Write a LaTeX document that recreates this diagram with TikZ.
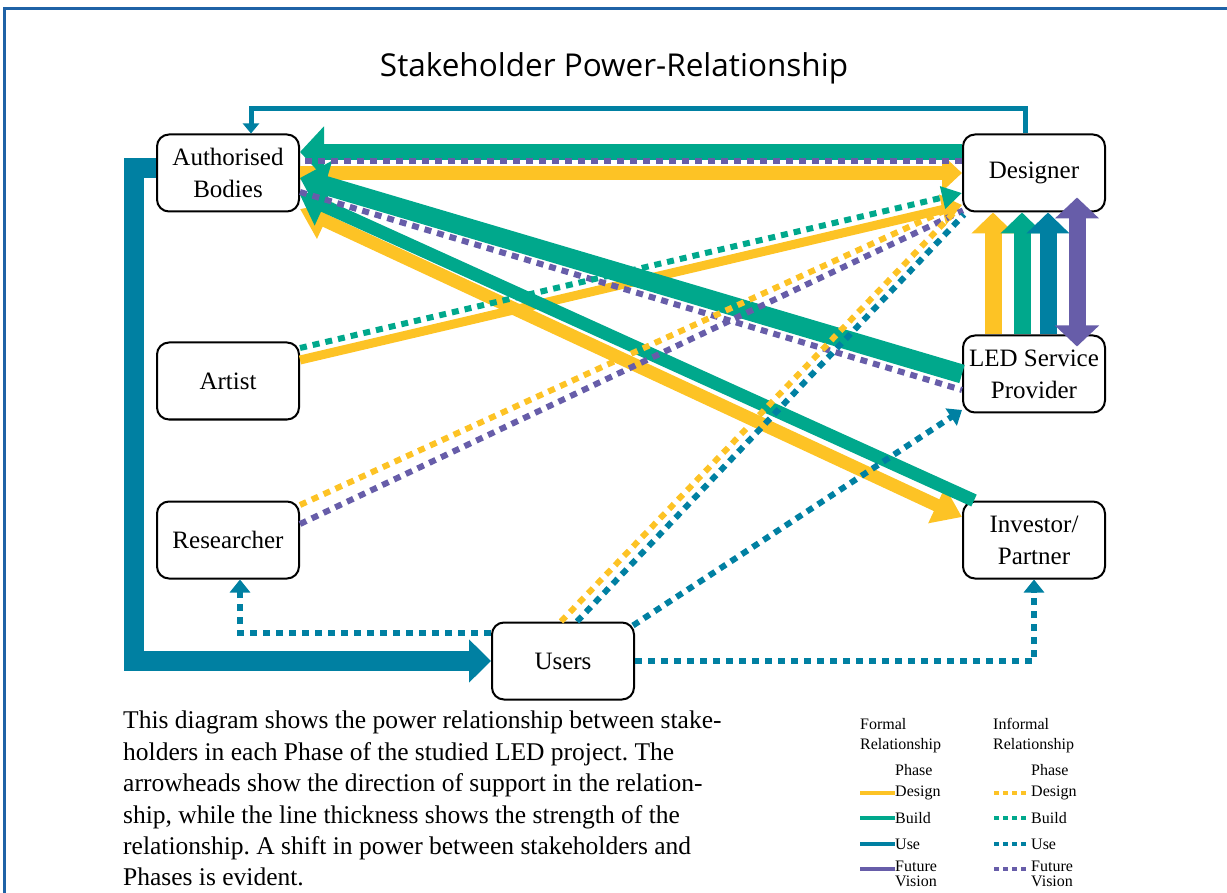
\documentclass[tikz,border=0pt]{standalone}
\usepackage{fontspec}
\setmainfont{Liberation Serif}
\newfontfamily\titlefont{Open Sans}
\usetikzlibrary{arrows.meta}

\definecolor{dsn}{HTML}{FDC325}
\definecolor{bld}{HTML}{00A88C}
\definecolor{use}{HTML}{0080A2}
\definecolor{fut}{HTML}{675DA9}
\definecolor{framecol}{HTML}{1F62A6}

\begin{document}
\frenchspacing
\begin{tikzpicture}[x=1pt, y=-1pt,
    party/.style={draw, line width=2pt, rounded corners=12pt, fill=white,
        minimum width=142pt, minimum height=77pt, inner sep=0pt, align=center,
        font=\fontsize{25}{32}\selectfont},
    dots/.style={line width=6pt, dash pattern=on 7pt off 6pt},
    legtext/.style={inner sep=0pt, anchor=west, font=\fontsize{16}{22}\selectfont},
    legdots/.style={line width=4pt, dash pattern=on 5pt off 4pt}]
    \clip (0,0) rectangle (1227,893);
    \draw[framecol, line width=3pt] (4,9) rectangle (1260,920);

    \draw (614,68) node[font=\titlefont\fontsize{31.5}{38}\selectfont] (title) {Stakeholder Power-Relationship};

    \draw (228,173) node[party] (ab) {Authorised\\Bodies};
    \draw (1034,173) node[party] (des) {Designer};
    \draw (228,381) node[party] (art) {Artist};
    \draw (1034,374) node[party] (led) {LED Service\\Provider};
    \draw (228,540) node[party] (res) {Researcher};
    \draw (1034,540) node[party] (inv) {Investor/\\Partner};
    \draw (563,661) node[party] (usr) {Users};

    % formal, design
    \draw[dsn, line width=14pt, -{Triangle[length=20pt,width=36pt]}] (ab.east) -- (des.west);
    \draw[dsn, line width=13pt, {Triangle[length=28pt,width=38pt]}-{Triangle[length=28pt,width=38pt]}] ([yshift=-36pt]ab.east) -- ([yshift=23pt]inv.west);
    \draw[dsn, line width=9pt, -{Triangle[length=20pt,width=30pt]}] ([yshift=21pt]art.east) -- ([yshift=-32pt]des.west);

    % formal, build
    \draw[bld, line width=16pt, -{Triangle[length=24pt,width=50pt]}] ([yshift=21pt]des.west) -- ([yshift=21pt]ab.east);
    \draw[bld, line width=19pt, -{Triangle[length=26pt,width=50pt]}] (led.west) -- ([yshift=-5pt]ab.east);
    \draw[bld, line width=13pt, -{Triangle[length=26pt,width=42pt]}] ([xshift=12pt]inv.north west) -- ([yshift=-22pt]ab.east);

    % LED provider to designer
    \foreach \dx/\col in {-41/dsn, -12/bld, 14/use}
        \draw[\col, line width=17pt, -{Triangle[length=21pt,width=42pt]}] ([xshift=\dx pt]led.north) -- ([xshift=\dx pt]des.south);
    \draw[fut, line width=17pt, {Triangle[length=21pt,width=43pt]}-{Triangle[length=21pt,width=43pt]}] ([xshift=43pt,yshift=-12pt]led.north) -- ([xshift=43pt,yshift=15pt]des.south);

    % formal, use
    \draw[use, line width=5pt, -{Triangle[length=10pt,width=16pt]}] ([xshift=-9pt]des.north) -- ++(0,-25) -| ([xshift=23pt]ab.north);
    \draw[use, line width=20pt, -{Triangle[length=22pt,width=42pt]}] ([yshift=5pt]ab.west) -- ++(-22,0) |- (usr.west);

    % informal
    \draw[fut, dots] ([yshift=12pt]des.west) -- ([yshift=12pt]ab.east);
    \draw[fut, dots] ([yshift=-19pt]ab.east) -- ([yshift=-16pt]led.west);
    \draw[bld, dots, -{Triangle[length=20pt,width=22pt]}] ([yshift=33pt]art.east) -- ([yshift=-20pt]des.west);
    \draw[dsn, dots] ([yshift=35pt]res.east) -- ([xshift=-4pt,yshift=8pt]des.south west);
    \draw[fut, dots] ([yshift=16pt]res.east) -- ([xshift=1pt,yshift=2pt]des.south west);
    \draw[dsn, dots] ([xshift=-2pt]usr.north) -- ([xshift=-6pt,yshift=2pt]des.south west);
    \draw[use, dots] ([xshift=14pt]usr.north) -- ([xshift=2pt,yshift=-2pt]des.south west);
    \draw[use, dots, -{Triangle[length=13pt,width=20pt]}] ([xshift=-2pt,yshift=-4pt]usr.north east) -- ([yshift=-36pt]led.west);
    \draw[use, dots, -{Triangle[length=13pt,width=20pt]}] ([yshift=28pt]usr.west) -| ([xshift=12pt]res.south);
    \draw[use, dots, -{Triangle[length=13pt,width=20pt]}] (usr.east) -| (inv.south);

    \draw (123,711) node[anchor=north west, inner sep=0pt, align=left, font=\fontsize{25.5}{31.4}\selectfont] (note)
        {This diagram shows the power relationship between stake-\\
         holders in each Phase of the studied LED project. The\\
         arrowheads show the direction of support in the relation-\\
         ship, while the line thickness shows the strength of the\\
         relationship. A shift in power between stakeholders and\\
         Phases is evident.};

    % legend
    \draw (860,724) node[legtext] (formal) {Formal};
    \draw (860,746) node[legtext] (formalrel) {Relationship};
    \draw (895,770) node[legtext] (formalph) {Phase};
    \draw (993,724) node[legtext] (informal) {Informal};
    \draw (993,746) node[legtext] (informalrel) {Relationship};
    \draw (1031,770) node[legtext] (informalph) {Phase};
    \foreach \n/\txt/\col/\yy in {a/Design/dsn/793, b/Build/bld/818, c/Use/use/844} {
        \draw (895,\yy) node[legtext] (f\n) {\txt};
        \draw[\col, line width=4pt] (f\n.west) -- ++(-35,0);
        \draw (1031,\yy) node[legtext] (i\n) {\txt};
        \draw[\col, legdots] ([xshift=-5pt]i\n.west) -- ++(-33,0);
    }
    \draw (895,861) node[legtext, anchor=north west, align=left, font=\fontsize{16}{15}\selectfont] (fd) {Future\\Vision};
    \draw[fut, line width=4pt] ([yshift=-8pt]fd.north west) -- ++(-35,0);
    \draw (1031,861) node[legtext, anchor=north west, align=left, font=\fontsize{16}{15}\selectfont] (id) {Future\\Vision};
    \draw[fut, legdots] ([xshift=-5pt,yshift=-8pt]id.north west) -- ++(-33,0);
\end{tikzpicture}
\end{document}
